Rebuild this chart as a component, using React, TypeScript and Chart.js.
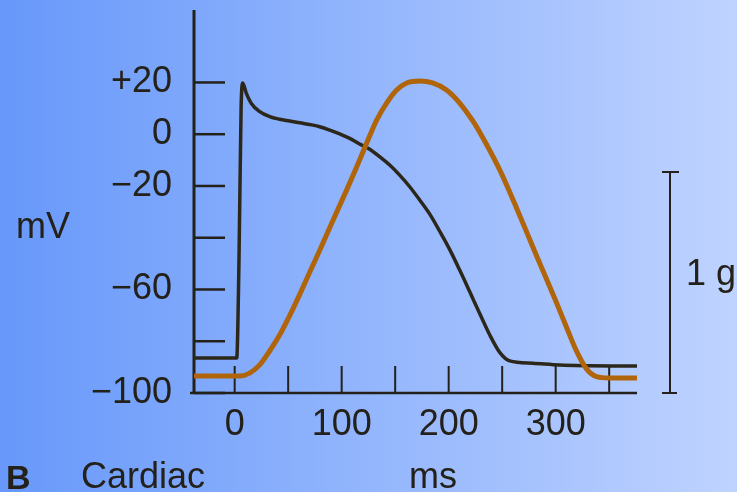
import { useEffect, useRef } from 'react';
import { Chart, registerables } from 'chart.js';

Chart.register(...registerables);

// Action potential (black), time in ms and membrane potential in mV
const apTimeMs = [-38, 1.9, 4, 6, 7.5, 10.9, 15.6, 23.4, 32.7, 42, 51.4, 60.7, 73.2, 79.4, 88.8, 98.1, 107.5, 116.8, 126.2, 135.5, 144.9, 154.2, 163.6, 172.9, 182.2, 191.6, 200.9, 210.3, 219.6, 229, 238.3, 247.7, 257, 278.5, 303.7, 376];
const apVoltageMv = [-86.5, -86.5, -50, 10, 19.8, 15.8, 11.9, 8.7, 6.8, 5.8, 5.1, 4.4, 3.5, 2.9, 1.6, 0.1, -1.6, -3.8, -5.8, -8.7, -11.9, -15.8, -20.3, -25.4, -30.8, -37.5, -44.5, -52.5, -60.8, -69.3, -77.5, -84.3, -87.6, -88.5, -89.2, -89.6];

// Contraction force (orange), time in ms and force in g
const forceTimeMs = [-38, 4.7, 14, 23.4, 32.7, 42, 51.4, 60.7, 70, 79.4, 91.6, 104.7, 114, 123.4, 132.7, 142, 151.4, 160.7, 172.9, 185, 198, 210.3, 222.4, 229, 247.7, 257, 263.6, 272.9, 282.2, 291.6, 300.9, 310.3, 319.6, 329, 338.3, 350.5, 376];
const forceGrams = [0.077, 0.077, 0.09, 0.127, 0.19, 0.262, 0.35, 0.445, 0.545, 0.645, 0.778, 0.919, 1.023, 1.131, 1.235, 1.312, 1.371, 1.403, 1.412, 1.403, 1.371, 1.312, 1.232, 1.18, 1.01, 0.91, 0.835, 0.728, 0.62, 0.514, 0.407, 0.295, 0.188, 0.108, 0.074, 0.068, 0.068];

const yTickValues = [-100, -80, -60, -40, -20, 0, 20];
const yTickLabels = ['−100', '', '−60', '', '−20', '0', '+20'];
const xTickValues = [0, 50, 100, 150, 200, 250, 300, 350];
const xTickLabels = ['0', '', '100', '', '200', '', '300', ''];

const FONT = '"Liberation Sans", Arial, sans-serif';
const INK = '#23211a';

export default function App() {
  const ref = useRef<HTMLCanvasElement | null>(null);

  useEffect(() => {
    document.body.style.margin = '0';
    const canvas = ref.current;
    if (!canvas) return;

    const decor = {
      id: 'decor',
      beforeDraw(chart: any) {
        const { ctx, width, height } = chart;
        const g = ctx.createLinearGradient(0, 0, width, 0);
        g.addColorStop(0, '#6798fa');
        g.addColorStop(1, '#bfd3ff');
        ctx.save();
        ctx.fillStyle = g;
        ctx.fillRect(0, 0, width, height);
        ctx.restore();
      },
      beforeDatasetsDraw(chart: any) {
        const { ctx, chartArea } = chart;
        const xs = chart.scales.x;
        const ys = chart.scales.y;
        ctx.save();
        ctx.strokeStyle = INK;
        ctx.lineCap = 'butt';
        ctx.lineWidth = 3;
        ctx.beginPath();
        ctx.moveTo(chartArea.left, chartArea.top);
        ctx.lineTo(chartArea.left, chartArea.bottom);
        ctx.stroke();
        ctx.lineWidth = 2.5;
        ctx.beginPath();
        ctx.moveTo(chartArea.left - 4, chartArea.bottom);
        ctx.lineTo(chartArea.right, chartArea.bottom);
        ctx.stroke();
        ctx.lineWidth = 2.5;
        yTickValues.forEach((v) => {
          const py = ys.getPixelForValue(v);
          ctx.beginPath();
          ctx.moveTo(chartArea.left, py);
          ctx.lineTo(chartArea.left + 31, py);
          ctx.stroke();
        });
        ctx.lineWidth = 2;
        xTickValues.forEach((v) => {
          const px = xs.getPixelForValue(v);
          ctx.beginPath();
          ctx.moveTo(px, chartArea.bottom);
          ctx.lineTo(px, chartArea.bottom - 27);
          ctx.stroke();
        });
        ctx.restore();
      },
      afterDraw(chart: any) {
        const { ctx, chartArea } = chart;
        const y2 = chart.scales.y2;
        ctx.save();
        const bx = chartArea.right + 33;
        const b0 = y2.getPixelForValue(0);
        const b1 = y2.getPixelForValue(1);
        ctx.strokeStyle = INK;
        ctx.lineWidth = 2;
        ctx.beginPath();
        ctx.moveTo(bx, b0);
        ctx.lineTo(bx, b1);
        ctx.moveTo(bx - 8, b1);
        ctx.lineTo(bx + 9, b1);
        ctx.moveTo(bx - 8, b0);
        ctx.lineTo(bx + 7, b0);
        ctx.stroke();

        ctx.fillStyle = INK;
        ctx.textBaseline = 'alphabetic';
        ctx.textAlign = 'left';
        ctx.font = `36px ${FONT}`;
        ctx.fillText('1 g', bx + 16, 285);
        ctx.fillText('mV', 16, 238);
        ctx.fillText('Cardiac', 81, 488);
        ctx.fillText('ms', 409, 488);
        ctx.font = `bold 34px ${FONT}`;
        ctx.fillText('B', 6, 489);
        ctx.restore();
      },
    };

    const chart = new Chart(canvas, {
      type: 'line',
      data: {
        datasets: [
          {
            label: 'Force',
            data: forceTimeMs.map((t, i) => ({ x: t, y: forceGrams[i] })),
            yAxisID: 'y2',
            borderColor: '#b0650a',
            borderWidth: 5,
            pointRadius: 0,
            cubicInterpolationMode: 'monotone',
            fill: false,
          },
          {
            label: 'Membrane potential',
            data: apTimeMs.map((t, i) => ({ x: t, y: apVoltageMv[i] })),
            yAxisID: 'y',
            borderColor: '#2b271b',
            borderWidth: 3.5,
            pointRadius: 0,
            cubicInterpolationMode: 'monotone',
            fill: false,
          },
        ],
      },
      options: {
        animation: false,
        responsive: false,
        devicePixelRatio: 1,
        layout: { padding: { left: 0, right: 100, top: 10, bottom: 0 } },
        plugins: { legend: { display: false }, tooltip: { enabled: false } },
        scales: {
          x: {
            type: 'linear',
            min: -38,
            max: 376,
            afterBuildTicks: (s: any) => {
              s.ticks = xTickValues.map((v) => ({ value: v }));
            },
            afterFit: (s: any) => {
              s.height = 99;
              s.paddingLeft = 0;
              s.paddingRight = 0;
            },
            ticks: {
              autoSkip: false,
              maxRotation: 0,
              padding: 10,
              color: INK,
              font: { size: 36, family: FONT },
              callback: (_v: any, i: number) => xTickLabels[i],
            },
            grid: { display: false, drawTicks: false },
            border: { display: false },
          },
          y: {
            type: 'linear',
            position: 'left',
            min: -100,
            max: 48,
            afterBuildTicks: (s: any) => {
              s.ticks = yTickValues.map((v) => ({ value: v }));
            },
            afterFit: (s: any) => {
              s.width = 194;
              s.paddingTop = 0;
              s.paddingBottom = 0;
            },
            ticks: {
              autoSkip: false,
              padding: 22,
              color: INK,
              font: { size: 36, family: FONT },
              callback: (_v: any, i: number) => yTickLabels[i],
            },
            grid: { display: false, drawTicks: false },
            border: { display: false },
          },
          y2: {
            type: 'linear',
            display: false,
            min: 0,
            max: 1.733,
          },
        },
      },
      plugins: [decor],
    });

    return () => chart.destroy();
  }, []);

  return <canvas ref={ref} width={737} height={492} style={{ display: 'block' }} />;
}
